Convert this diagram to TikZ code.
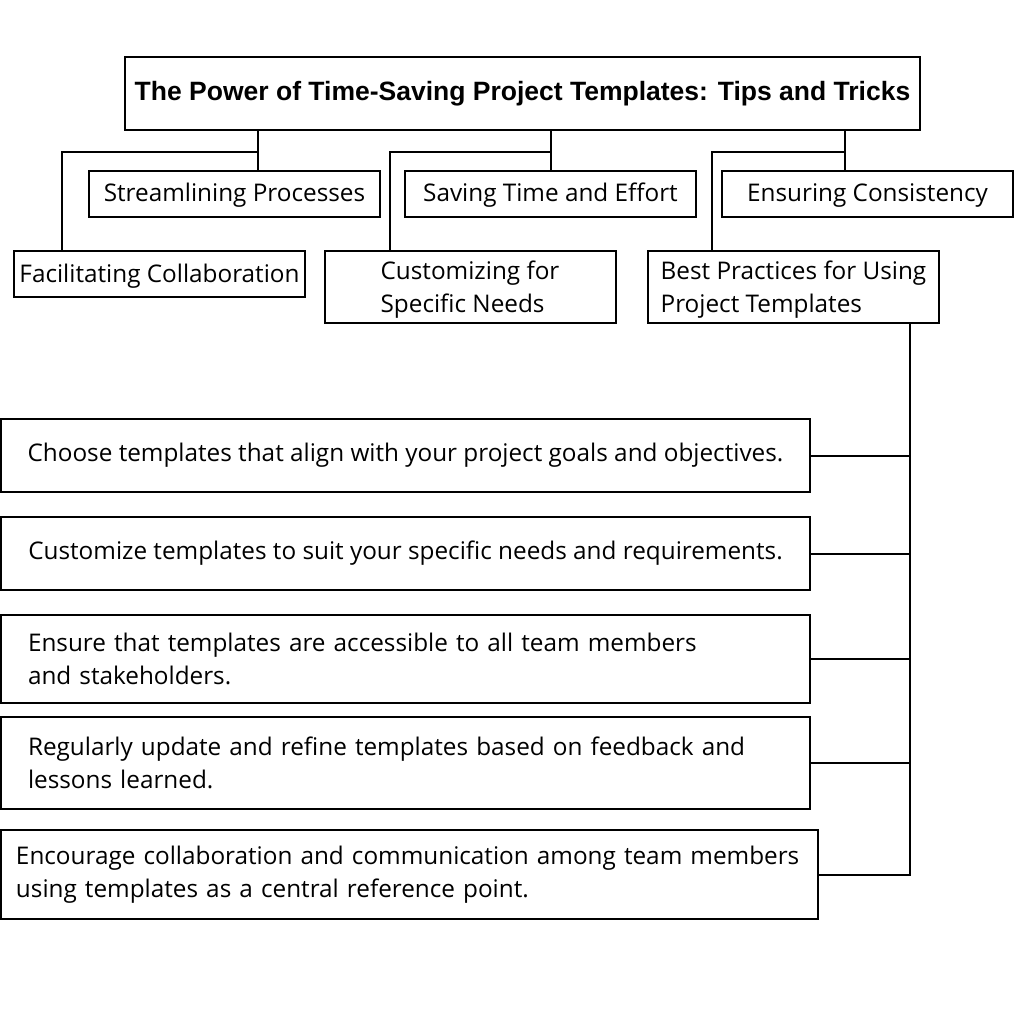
\documentclass[tikz,border=0pt]{standalone}
\usepackage{fontspec}
\setmainfont{Open Sans}
\newfontfamily\titlefont{Liberation Sans}
\usetikzlibrary{positioning, calc}

\begin{document}
\begin{tikzpicture}[
  x=1pt, y=-1pt,
  font=\fontsize{24.3}{33}\selectfont,
  % ---- Box styles ----
  base/.style={draw, rectangle, line width=2pt, inner sep=0pt},
  topbox/.style={base, font=\titlefont\bfseries\fontsize{26.5}{30}\selectfont},
  catbox/.style={base, align=left, minimum width=291, minimum height=46,
    text height=22pt, text depth=6pt},
  tallbox/.style={base, align=left, minimum width=291, minimum height=72},
  tipbox/.style={base, anchor=north west, minimum width=809},
  tiptwo/.style={base, align=left, anchor=north west, inner xsep=27pt,
    text width=755},
  % ---- Connector style ----
  link/.style={line width=2pt},
]
\useasboundingbox (0,0) rectangle (1024,1024);

% ---- Title ----
\node[topbox, minimum width=795, minimum height=73] (title) at (522.5,93.5)
  {The Power of Time-Saving Project Templates: Tips and Tricks};

% ---- Categories (two staggered rows) ----
\node[catbox]  (strm)  at (234.5,194) {Streamlining Processes};
\node[catbox]  (save)  at (550.5,194) {Saving Time and Effort};
\node[catbox]  (cons)  at (867.5,194) {Ensuring Consistency};
\node[catbox]  (facil) at (159.5,274) {Facilitating Collaboration};
\node[tallbox] (cust)  at (470,287)   {\strut Customizing for\\Specific Needs};
\node[tallbox] (best)  at (793.5,287) {\strut Best Practices for Using\\Project Templates};

% ---- Tips (left column) ----
\node[tipbox, minimum height=73] (tip1) at (0,418)
  {Choose templates that align with your project goals and objectives.};
\node[tipbox, minimum height=73] (tip2) at (0,516)
  {Customize templates to suit your specific needs and requirements.};
\node[tiptwo, minimum height=88] (tip3) at (0,614)
  {Ensure that templates are accessible to all team members\\and stakeholders.};
\node[tiptwo, minimum height=92] (tip4) at (0,716)
  {Regularly update and refine templates based on feedback and\\lessons learned.};
\node[tiptwo, minimum height=89, inner xsep=15pt, text width=787] (tip5) at (0,829)
  {Encourage collaboration and communication among team members\\using templates as a central reference point.};

% ---- Branch points under the title ----
\coordinate (s1) at (258,152);  \coordinate (b1) at (62,152);
\coordinate (s2) at (551,152);  \coordinate (b2) at (390,152);
\coordinate (s3) at (845,152);  \coordinate (b3) at (712,152);
\coordinate (trk) at (910,0);

% ---- Title -> categories ----
\draw[link] (title.south -| s1) -- (strm.north -| s1);
\draw[link] (s1) -- (b1) -- (facil.north -| b1);
\draw[link] (title.south -| s2) -- (save.north -| s2);
\draw[link] (s2) -- (b2) -- (cust.north -| b2);
\draw[link] (title.south -| s3) -- (cons.north -| s3);
\draw[link] (s3) -- (b3) -- (best.north -| b3);

% ---- Best practices -> tips ----
\draw[link] (best.south -| trk) |- (tip5.east);
\foreach \i in {1,...,4}
  \draw[link] (tip\i.east) -- (tip\i.east -| trk);
\end{tikzpicture}
\end{document}
